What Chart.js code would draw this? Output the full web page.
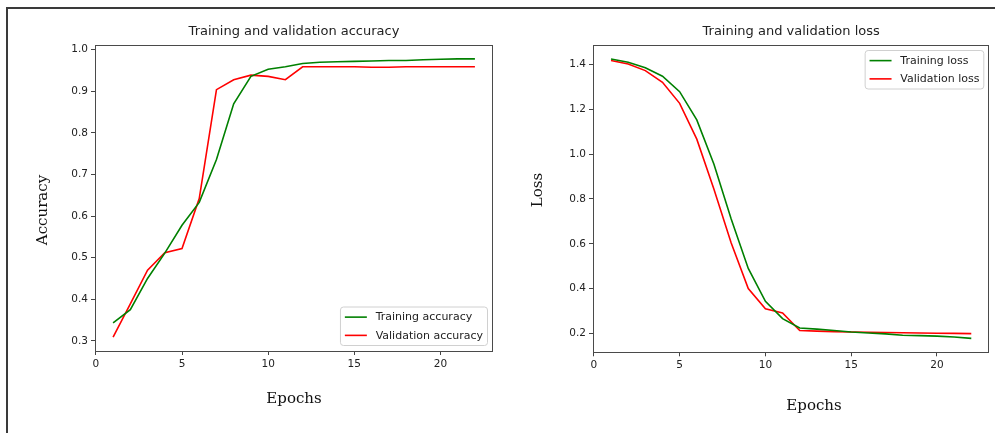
<!DOCTYPE html>
<html><head><meta charset="utf-8">
<script src="https://cdn.jsdelivr.net/npm/chart.js@4.4.0/dist/chart.umd.min.js"></script>
<style>
html,body{margin:0;padding:0;background:#fff;width:995px;height:433px;overflow:hidden;}
#frame{position:absolute;left:6px;top:7px;width:1000px;height:500px;border-left:2px solid #3a3a3a;border-top:2px solid #3a3a3a;}
canvas{position:absolute;top:0;}
#c1{left:0}
#c2{left:500px}
</style></head><body>
<div id="frame"></div>
<canvas id="c1" width="500" height="433"></canvas>
<canvas id="c2" width="495" height="433"></canvas>
<script>
// ---- data ----
const epochs = [1,2,3,4,5,6,7,8,9,10,11,12,13,14,15,16,17,18,19,20,21,22];
const trainAcc = [0.343,0.375,0.450,0.511,0.578,0.633,0.736,0.870,0.936,0.953,0.959,0.967,0.970,0.971,0.972,0.973,0.974,0.974,0.976,0.977,0.978,0.978];
const valAcc   = [0.309,0.389,0.470,0.512,0.522,0.642,0.904,0.928,0.939,0.936,0.928,0.959,0.959,0.959,0.959,0.958,0.958,0.959,0.959,0.959,0.959,0.959];
const trainLoss = [1.425,1.410,1.386,1.348,1.279,1.153,0.955,0.712,0.490,0.343,0.266,0.224,0.219,0.213,0.206,0.202,0.198,0.192,0.190,0.188,0.184,0.178];
const valLoss   = [1.418,1.403,1.373,1.321,1.227,1.067,0.843,0.605,0.400,0.310,0.291,0.213,0.210,0.208,0.206,0.205,0.204,0.203,0.202,0.201,0.200,0.199];
const epochTicks = [0,5,10,15,20];
const accTicks = [0.3,0.4,0.5,0.6,0.7,0.8,0.9,1.0];
const lossTicks = [0.2,0.4,0.6,0.8,1.0,1.2,1.4];

// ---- helpers ----
function padRange(values, frac) {
  const lo = Math.min(...values), hi = Math.max(...values), r = hi - lo;
  return {min: lo - frac * r, max: hi + frac * r};
}

const framePlugin = {
  id: 'axesFrame',
  afterDatasetsDraw(chart) {
    const {ctx, chartArea: a} = chart;
    ctx.save();
    ctx.strokeStyle = '#4a4a4a';
    ctx.lineWidth = 1;
    ctx.strokeRect(Math.round(a.left) + 0.5, Math.round(a.top) + 0.5, Math.round(a.right - a.left) - 1, Math.round(a.bottom - a.top));
    ctx.restore();
  }
};

const legendPlugin = {
  id: 'boxLegend',
  afterDraw(chart, args, opts) {
    const {ctx, chartArea: a} = chart;
    const fs = opts.fontSize;
    ctx.save();
    ctx.font = fs + "px 'DejaVu Sans', sans-serif";
    const items = chart.data.datasets;
    const textW = Math.max(...items.map(d => ctx.measureText(d.label).width));
    const pad = 0.4 * fs, handle = 2 * fs, gap = 0.8 * fs, axpad = 0.5 * fs;
    const rowGap = 1.66 * fs;
    const w = pad * 2 + handle + gap + textW;
    const h = 3.5 * fs;
    const x = a.right - axpad - w;
    const y = opts.corner === 'top' ? a.top + axpad : a.bottom - axpad - h;
    const r = 3;
    ctx.beginPath();
    ctx.moveTo(x + r, y);
    ctx.arcTo(x + w, y, x + w, y + h, r);
    ctx.arcTo(x + w, y + h, x, y + h, r);
    ctx.arcTo(x, y + h, x, y, r);
    ctx.arcTo(x, y, x + w, y, r);
    ctx.closePath();
    ctx.fillStyle = 'rgba(255,255,255,0.85)';
    ctx.fill();
    ctx.strokeStyle = '#d0d0d0';
    ctx.lineWidth = 1;
    ctx.stroke();
    const first = y + (h - rowGap * (items.length - 1)) / 2;
    items.forEach((d, i) => {
      const cy = first + i * rowGap;
      ctx.beginPath();
      ctx.moveTo(x + pad, cy);
      ctx.lineTo(x + pad + handle, cy);
      ctx.strokeStyle = d.borderColor;
      ctx.lineWidth = d.borderWidth;
      ctx.stroke();
      ctx.fillStyle = '#222';
      ctx.textBaseline = 'middle';
      ctx.textAlign = 'left';
      ctx.fillText(d.label, x + pad + handle + gap, cy + 0.5);
    });
    ctx.restore();
  }
};

const axisTitlePlugin = {
  id: 'axisTitles',
  afterDraw(chart, args, opts) {
    const ctx = chart.ctx;
    ctx.save();
    ctx.font = "15px 'DejaVu Serif', serif";
    ctx.fillStyle = '#111';
    ctx.textAlign = 'center';
    ctx.textBaseline = 'middle';
    ctx.fillText(opts.x.text, opts.x.cx, opts.x.cy);
    ctx.translate(opts.y.cx, opts.y.cy);
    ctx.rotate(-Math.PI / 2);
    ctx.fillText(opts.y.text, 0, 0);
    ctx.restore();
  }
};

const xr = padRange(epochs, 0.05);

function makeChart(id, cfg) {
  const yr = padRange(cfg.series.flatMap(s => s.values), 0.05);
  const tickFont = {family: "'DejaVu Sans', sans-serif", size: 10.5};
  return new Chart(document.getElementById(id), {
    type: 'line',
    data: {
      datasets: cfg.series.map(s => ({
        label: s.label,
        data: epochs.map((e, i) => ({x: e, y: s.values[i]})),
        borderColor: s.color,
        backgroundColor: s.color,
        borderWidth: 1.6,
        pointRadius: 0,
        tension: 0,
        fill: false
      }))
    },
    options: {
      responsive: false,
      animation: false,
      layout: {padding: {left: 0, top: 0, bottom: 0, right: cfg.padRight}},
      plugins: {
        legend: {display: false},
        tooltip: {enabled: false},
        title: {
          display: true, text: cfg.title, fullSize: false, color: '#222',
          font: {family: "'DejaVu Sans', sans-serif", size: 13, weight: 'normal'},
          padding: {top: 24, bottom: 5.4}
        },
        boxLegend: {corner: cfg.legendCorner, fontSize: 11},
        axisTitles: cfg.axisTitles
      },
      scales: {
        x: {
          type: 'linear', min: xr.min, max: xr.max,
          afterFit: s => { s.height = cfg.xAxisHeight; },
          afterBuildTicks: s => { s.ticks = epochTicks.map(v => ({value: v})); },
          grid: {display: true, drawOnChartArea: false, drawTicks: true, tickLength: 4, color: '#444'},
          border: {display: false},
          ticks: {font: tickFont, color: '#222', padding: 3, maxRotation: 0, autoSkip: false, callback: v => String(v)}
        },
        y: {
          type: 'linear', min: yr.min, max: yr.max,
          afterFit: s => { s.width = cfg.yAxisWidth; },
          afterBuildTicks: s => { s.ticks = cfg.yTicks.map(v => ({value: v})); },
          grid: {display: true, drawOnChartArea: false, drawTicks: true, tickLength: 4, color: '#444'},
          border: {display: false},
          ticks: {font: tickFont, color: '#222', padding: 3, autoSkip: false, callback: v => v.toFixed(1)}
        }
      }
    },
    plugins: [framePlugin, legendPlugin, axisTitlePlugin]
  });
}

makeChart('c1', {
  title: 'Training and validation accuracy',
  series: [
    {label: 'Training accuracy', values: trainAcc, color: '#008000'},
    {label: 'Validation accuracy', values: valAcc, color: '#ff0000'}
  ],
  yTicks: accTicks,
  legendCorner: 'bottom',
  padRight: 7,
  yAxisWidth: 95,
  xAxisHeight: 82,
  axisTitles: {x: {text: 'Epochs', cx: 294, cy: 399}, y: {text: 'Accuracy', cx: 43, cy: 210}}
});

makeChart('c2', {
  title: 'Training and validation loss',
  series: [
    {label: 'Training loss', values: trainLoss, color: '#008000'},
    {label: 'Validation loss', values: valLoss, color: '#ff0000'}
  ],
  yTicks: lossTicks,
  legendCorner: 'top',
  padRight: 5.7,
  yAxisWidth: 93,
  xAxisHeight: 80.7,
  axisTitles: {x: {text: 'Epochs', cx: 314, cy: 406}, y: {text: 'Loss', cx: 38, cy: 190}}
});
</script>
</body></html>
